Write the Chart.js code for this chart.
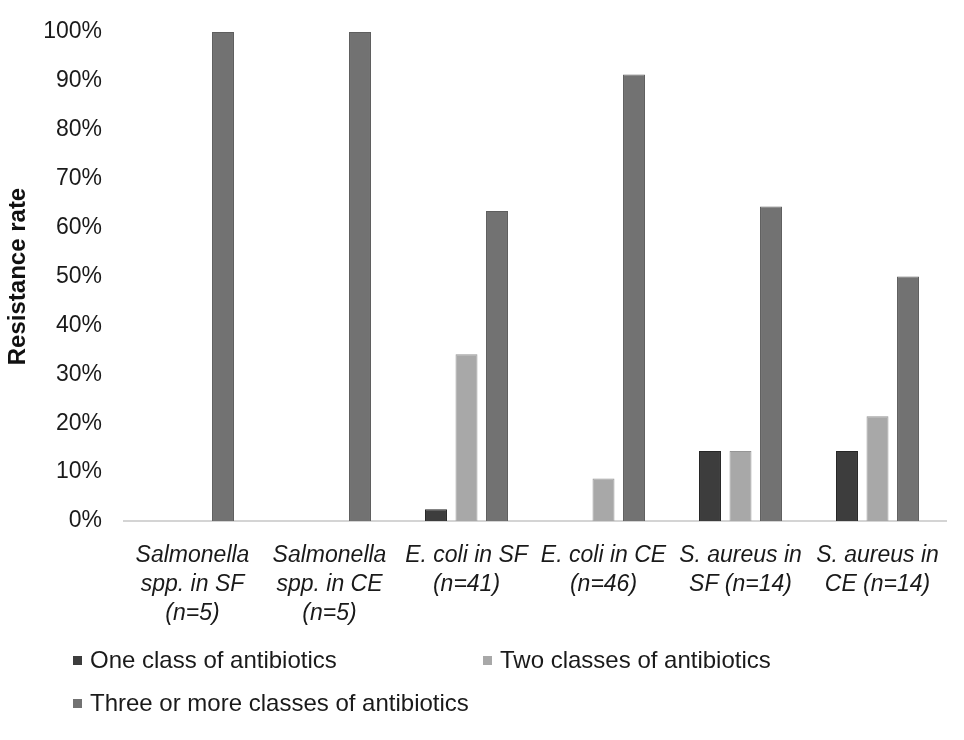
<!DOCTYPE html>
<html>
<head>
<meta charset="utf-8">
<script src="https://cdn.jsdelivr.net/npm/chart.js@4.4.1/dist/chart.umd.min.js"></script>
<style>
  html, body { margin: 0; padding: 0; background: #fff; }
  #wrap { position: relative; width: 964px; height: 740px; }
  #chart { position: absolute; left: 0; top: 0; }
  .leg { position: absolute; font-family: "Liberation Sans", Arial, sans-serif; font-size: 24px; color: #1a1a1a; white-space: nowrap; line-height: 26px; }
  .leg i { display: inline-block; width: 9px; height: 9px; margin-right: 8px; vertical-align: 3px; }
</style>
</head>
<body>
<div id="wrap">
  <canvas id="chart" width="964" height="740"></canvas>
</div>
<script>
// Data
const categories = [
    ['Salmonella', 'spp. in SF', '(n=5)'],
    ['Salmonella', 'spp. in CE', '(n=5)'],
    ['E. coli in SF', '(n=41)'],
    ['E. coli in CE', '(n=46)'],
    ['S. aureus in', 'SF (n=14)'],
    ['S. aureus in', 'CE (n=14)']
];
const seriesNames = ['One class of antibiotics', 'Two classes of antibiotics', 'Three or more classes of antibiotics'];
const oneClass = [0, 0, 2.4, 0, 14.3, 14.3];
const twoClasses = [0, 0, 34.1, 8.7, 14.3, 21.4];
const threePlus = [100, 100, 63.4, 91.3, 64.3, 50.0];
const yTicks = [0, 10, 20, 30, 40, 50, 60, 70, 80, 90, 100];

const fills = ['#3d3d3d', '#a8a8a8', '#727272'];
const edges = ['#262626', '#959595', '#5e5e5e'];
const seriesValues = [oneClass, twoClasses, threePlus];

const datasets = seriesValues.map((vals, i) => ({
    label: seriesNames[i],
    data: vals,
    backgroundColor: fills[i],
    borderColor: edges[i],
    borderWidth: 1,
    categoryPercentage: 0.668,
    barPercentage: 0.72
}));

const font = 'Liberation Sans, Arial, sans-serif';

new Chart(document.getElementById('chart'), {
    type: 'bar',
    data: { labels: categories, datasets: datasets },
    options: {
        responsive: false,
        animation: false,
        layout: { padding: { top: 32, right: 18, bottom: 0, left: 0 } },
        plugins: {
            legend: { display: false },
            tooltip: { enabled: false }
        },
        scales: {
            x: {
                grid: { display: false },
                border: { display: true, color: '#d4d4d4', width: 2 },
                ticks: {
                    color: '#1a1a1a',
                    font: { family: font, size: 23, style: 'italic', lineHeight: 1.26 },
                    padding: 12,
                    maxRotation: 0,
                    autoSkip: false
                },
                afterFit: (scale) => { scale.height = 219; }
            },
            y: {
                min: 0,
                max: 100,
                afterBuildTicks: (scale) => { scale.ticks = yTicks.map(v => ({ value: v })); },
                grid: { display: false },
                border: { display: false },
                ticks: {
                    color: '#1a1a1a',
                    font: { family: font, size: 23 },
                    padding: 14,
                    callback: (v) => v + '%'
                },
                title: {
                    display: true,
                    text: 'Resistance rate',
                    color: '#111',
                    font: { family: font, size: 24, weight: 'bold' },
                    padding: { top: 4, bottom: 0 }
                },
                afterFit: (scale) => {
                    scale.width = 124;
                    scale.paddingTop = 0;
                    scale.paddingBottom = 0;
                }
            }
        }
    }
});

// Legend laid out like the original (two items on the first row, one on the second)
const legendSpots = [[73, 647], [483, 647], [73, 690]];
const wrap = document.getElementById('wrap');
seriesNames.forEach((name, i) => {
    const d = document.createElement('div');
    d.className = 'leg';
    d.style.left = legendSpots[i][0] + 'px';
    d.style.top = legendSpots[i][1] + 'px';
    d.innerHTML = `<i style="background:${fills[i]}"></i>${name}`;
    wrap.appendChild(d);
});
</script>
</body>
</html>
